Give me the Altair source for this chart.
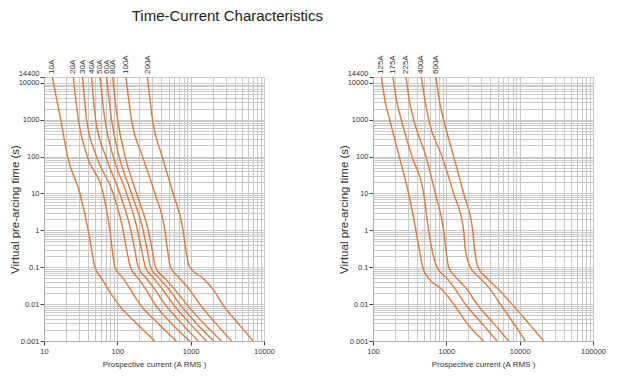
import altair as alt
import pandas as pd

TITLE = "Time-Current Characteristics"
Y_TITLE = "Virtual pre-arcing time (s)"
X_TITLE = "Prospective current (A RMS )"

# ---- left panel (times in s, currents in A) ----
T_LEFT = [14400, 1000, 100, 10, 1, 0.3, 0.1, 0.05, 0.025, 0.01, 0.003, 0.001]
LEFT_RATINGS = ["10A", "20A", "30A", "40A", "50A", "60A", "80A", "100A", "200A"]
I_10A = [13.0, 16.9, 21.0, 30.9, 40.1, 44.6, 49.5, 61.0, 75.1, 103, 183, 325]
I_20A = [25.1, 29.4, 38.9, 64.2, 79.2, 85.3, 92.7, 120, 151, 203, 360, 641]
I_30A = [33.6, 38.1, 52.1, 87.9, 120, 134, 151, 193, 245, 325, 547, 972]
I_40A = [44.6, 50.6, 69.8, 108, 153, 173, 193, 250, 325, 445, 750, 1265]
I_50A = [57.9, 67.7, 87.9, 134, 189, 214, 242, 315, 413, 577, 972, 1640]
I_60A = [71.3, 83.4, 106, 156, 225, 255, 284, 372, 509, 711, 1200, 2065]
I_80A = [86.1, 101, 128, 183, 264, 299, 332, 445, 608, 877, 1510, 2625]
I_100A = [131, 156, 221, 325, 445, 483, 531, 711, 953, 1330, 2197, 3597]
I_200A = [258, 302, 409, 577, 789, 858, 973, 1479, 2024, 2710, 4430, 7100]
LEFT_CURVES = [I_10A, I_20A, I_30A, I_40A, I_50A, I_60A, I_80A, I_100A, I_200A]

# ---- right panel ----
T_RIGHT = [14400, 3000, 1000, 100, 10, 1, 0.3, 0.1, 0.05, 0.025, 0.01, 0.003, 0.001]
RIGHT_RATINGS = ["125A", "175A", "225A", "400A", "600A"]
I_125A = [130, 147, 169, 228, 306, 385, 428, 476, 574, 874, 1260, 1915, 3230]
I_175A = [187, 212, 243, 340, 491, 574, 638, 746, 1021, 1327, 1816, 3060, 4910]
I_225A = [282, 316, 359, 528, 708, 920, 989, 1076, 1397, 1914, 2620, 4420, 7080]
I_400A = [456, 517, 574, 873, 1259, 1723, 1816, 2124, 2910, 3985, 5450, 8280, 11940]
I_600A = [723, 811, 920, 1259, 1723, 2285, 2433, 2703, 3587, 5180, 7860, 13270, 21240]
RIGHT_CURVES = [I_125A, I_175A, I_225A, I_400A, I_600A]

X_LEFT_MAJOR = [10, 100, 1000, 10000]
X_RIGHT_MAJOR = [100, 1000, 10000, 100000]
Y_DECADES = [0.001, 0.01, 0.1, 1, 10, 100, 1000, 10000]
Y_TOP = 14400

ORANGE = "#dd7a3e"
GRID = "#c9c9c9"
FONT = "Liberation Sans"


def minor_values(majors):
    vals = []
    for m in majors[:-1]:
        vals += [m * k for k in range(1, 10)]
    vals.append(majors[-1])
    return vals


Y_GRID = minor_values(Y_DECADES) + [Y_TOP]

MAJOR_TEST = ("abs(log(datum.value)/LN10 - round(log(datum.value)/LN10)) < 1e-6"
              " || datum.value == 14400")
LABEL_EXPR = "(" + MAJOR_TEST + ") ? format(datum.value, '~g') : ''"
TICK_OP = {"condition": {"test": MAJOR_TEST, "value": 1}, "value": 0}
Y_BASELINE = {"condition": {"test": "datum.value == 14400", "value": "bottom"},
              "value": "middle"}


def make_df(ratings, curves, times):
    rows = []
    for r, cur in zip(ratings, curves):
        for i, (c, t) in enumerate(zip(cur, times)):
            rows.append({"rating": r, "current": c, "time": t, "idx": i})
    return pd.DataFrame(rows)


def panel(ratings, curves, times, xmajors):
    df = make_df(ratings, curves, times)
    tops = pd.DataFrame({"rating": ratings, "current": [c[0] for c in curves]})
    xscale = alt.Scale(type="log", domain=[xmajors[0], xmajors[-1]], nice=False)
    yscale = alt.Scale(type="log", domain=[Y_DECADES[0], Y_TOP], nice=False)
    xaxis = alt.Axis(values=minor_values(xmajors), labelExpr=LABEL_EXPR,
                     tickOpacity=TICK_OP, grid=True, title=X_TITLE,
                     labelFlush=False, labelOverlap=False, tickSize=4,
                     labelPadding=2, titlePadding=6, labelFont=FONT,
                     labelFontSize=7.5, titleFont=FONT, titleFontSize=8,
                     titleFontWeight="normal")
    yaxis = alt.Axis(values=Y_GRID, labelExpr=LABEL_EXPR, tickOpacity=TICK_OP,
                     labelBaseline=Y_BASELINE,
                     grid=True, title=Y_TITLE, labelOverlap=False, tickSize=4,
                     labelPadding=1, titlePadding=-2, labelFont=FONT,
                     labelFontSize=7.5, titleFont=FONT, titleFontSize=11.5,
                     titleFontWeight="normal")
    lines = alt.Chart(df).mark_line(
        color=ORANGE, strokeWidth=1.4, interpolate="monotone", clip=True
    ).encode(
        x=alt.X("current:Q", scale=xscale, axis=xaxis),
        y=alt.Y("time:Q", scale=yscale, axis=yaxis),
        detail="rating:N",
        order="idx:Q",
    )
    labels = alt.Chart(tops).mark_text(
        angle=270, align="left", baseline="middle", fontSize=8,
        font=FONT, color="#333333"
    ).encode(
        x=alt.X("current:Q", scale=xscale),
        y=alt.value(-3),
        text="rating:N",
    )
    return alt.layer(lines, labels).properties(width=220, height=264)


left = panel(LEFT_RATINGS, LEFT_CURVES, T_LEFT, X_LEFT_MAJOR)
right = panel(RIGHT_RATINGS, RIGHT_CURVES, T_RIGHT, X_RIGHT_MAJOR)

chart = alt.hconcat(left, right, spacing=62).properties(
    padding=0,
    background="white",
    title=alt.TitleParams(TITLE, fontSize=15, font=FONT, fontWeight="normal",
                          color="#222222", anchor="middle", dx=-80, offset=31),
).configure_view(
    stroke="#b0b0b0"
).configure_axis(
    gridColor=GRID, gridWidth=1, domainColor="#b0b0b0", tickColor="#444444",
    labelColor="#333333", titleColor="#333333"
)

chart.save("out.html", embed_options={"renderer": "svg", "actions": False})
